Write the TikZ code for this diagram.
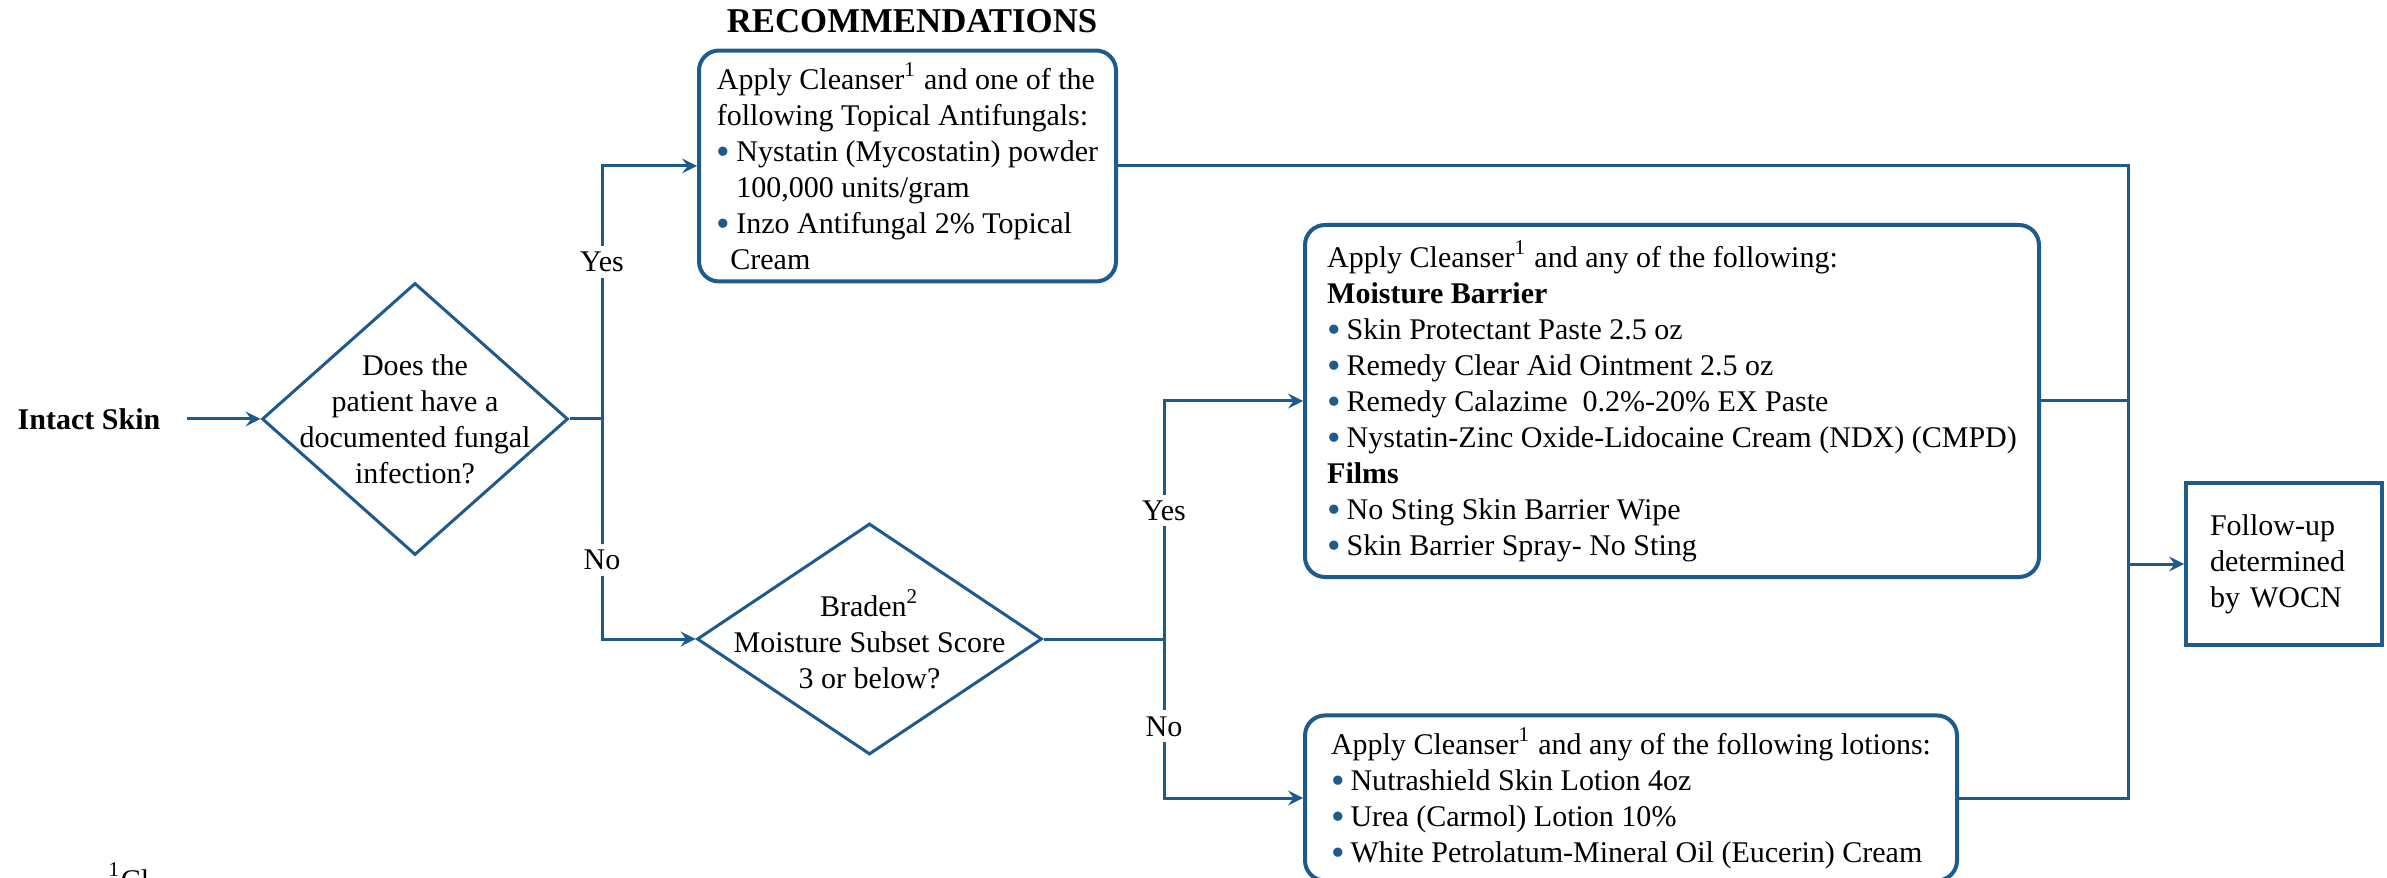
\documentclass[tikz,border=0pt]{standalone}
\usepackage{fontspec}
\setmainfont{Liberation Serif}
\usepackage{tikz}
\usetikzlibrary{shapes.geometric}
\usetikzlibrary{arrows}
\definecolor{flowblue}{RGB}{31,90,140}
\newcommand{\bluedot}{%
    \raisebox{-0.8pt}{\color{flowblue}\fontsize{11pt}{10.24pt}\selectfont\textbullet}%
    \hspace{-0.05em}\ }
\tikzset{
    % Filled arrow heads as on the printed chart
    >=stealth,
%
    % Plain connector between chart elements
    flow line/.style={draw=flowblue, line width=0.3mm},
%
    % Yes/No question, text is set on top of it
    decision/.style={
        diamond, draw=flowblue, line width=0.3mm, inner sep=0},
%
    % Rounded box listing the recommended products
    advice box/.style={
        rectangle, rounded corners=2mm, draw=flowblue, line width=0.4mm,
        align=left, anchor=west},
%
    % Square box for the last step
    outcome box/.style={
        rectangle, draw=flowblue, line width=0.4mm, align=left,
        inner xsep=2.4mm, text width=14.8mm},
%
    % Yes/No written over a connector
    branch label/.style={fill=white, inner sep=0.6mm}}

\begin{document}
\begin{tikzpicture}[font=\fontsize{8.54pt}{10.24pt}\selectfont]

% Page area of the chart
\useasboundingbox (0,0) rectangle (238.7mm,-87.8mm);

\node [font=\bfseries\fontsize{9.9pt}{12pt}\selectfont] (title)
    at (91.2mm,-2.15mm) {RECOMMENDATIONS};

% Start and questions

\node [anchor=east, inner xsep=2.6mm] (intact) at (18.7mm,-41.9mm)
    {\textbf{Intact Skin}};

\node [decision, minimum width=30.6mm, minimum height=27.2mm] (fungal)
    at (41.5mm,-41.9mm) {};
\node [align=center] (fungaltext) at (fungal)
    {Does the\\patient have a\\documented fungal\\infection?};

\node [decision, minimum width=34.5mm, minimum height=23.1mm] (braden)
    at (86.95mm,-63.9mm) {};
\node [align=center] (bradentext) at (braden)
    {Braden\textsuperscript{2}\\Moisture Subset Score\\3 or below?};

% Recommendations

\node [advice box, minimum width=41.7mm, minimum height=22.6mm] (antifungal)
    at (69.7mm,-16.6mm)
    {
        Apply Cleanser\textsuperscript{1} and one of the\\
        following Topical Antifungals:\\
        \bluedot Nystatin (Mycostatin) powder\\
        \hspace*{0.65em}100,000 units/gram\\
        \bluedot Inzo Antifungal 2\% Topical\\
        \hspace*{0.45em}Cream
    };

\node [advice box, minimum width=73.4mm, minimum height=35.2mm] (barrier)
    at (130.3mm,-40.1mm)
    {
        Apply Cleanser\textsuperscript{1} and any of the following:\\
        \textbf{Moisture Barrier}\\
        \bluedot Skin Protectant Paste 2.5 oz\\
        \bluedot Remedy Clear Aid Ointment 2.5 oz\\
        \bluedot Remedy Calazime\ \ 0.2\%-20\% EX Paste\\
        \bluedot Nystatin-Zinc Oxide-Lidocaine Cream (NDX) (CMPD)\\
        \textbf{Films}\\
        \bluedot No Sting Skin Barrier Wipe\\
        \bluedot Skin Barrier Spray- No Sting
    };

\node [advice box, minimum width=65.2mm, minimum height=16.2mm] (lotion)
    at (130.3mm,-79.8mm)
    {
        Apply Cleanser\textsuperscript{1} and any of the following lotions:\\
        \bluedot Nutrashield Skin Lotion 4oz\\
        \bluedot Urea (Carmol) Lotion 10\%\\
        \bluedot White Petrolatum-Mineral Oil (Eucerin) Cream
    };

\node [outcome box, minimum width=19.6mm, minimum height=16.2mm] (followup)
    at (228.4mm,-56.4mm) {Follow-up\\determined\\by WOCN};

% Footnote, cut off by the page edge
\node [anchor=base west, inner sep=0] (footnote) at (10.8mm,-89.0mm)
    {\textsuperscript{1}Cl};

% Junctions

\coordinate (split1) at (60.2mm,-41.9mm);
\coordinate (split2) at (116.4mm,-63.9mm);
\coordinate (trunk) at (212.8mm,-56.4mm);

% Connectors

\draw [flow line, ->] (intact.east) -- (fungal.west);
\draw [flow line] (fungal.east) -- (split1);
\draw [flow line, ->] (split1) |- node [branch label, pos=0.31] (yesfungal) {Yes}
    (antifungal.west);
\draw [flow line, ->] (split1) |- node [branch label, pos=0.32] (nofungal) {No}
    (braden.west);

\draw [flow line] (braden.east) -- (split2);
\draw [flow line, ->] (split2) |- node [branch label, pos=0.27] (yesbraden) {Yes}
    (barrier.west);
\draw [flow line, ->] (split2) |- node [branch label, pos=0.275] (nobraden) {No}
    (lotion.west);

\draw [flow line] (antifungal.east) -| (trunk);
\draw [flow line] (barrier.east) -- (barrier.east -| trunk);
\draw [flow line] (lotion.east) -| (trunk);
\draw [flow line, ->] (trunk) -- (followup.west);

\end{tikzpicture}
\end{document}
